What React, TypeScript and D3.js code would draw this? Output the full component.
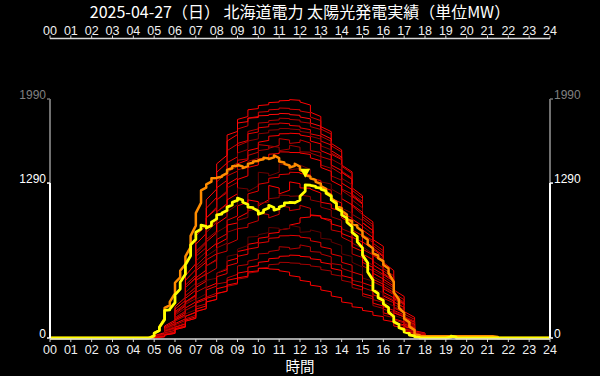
import React from "react";
import * as d3 from "d3";

const titleText = "2025-04-27（日） 北海道電力 太陽光発電実績（単位MW）";
const xAxisTitle = "時間";
const hourLabels = ["00","01","02","03","04","05","06","07","08","09","10","11","12","13","14","15","16","17","18","19","20","21","22","23","24"];
const yTickValues = [0, 1290, 1990];
const yTickLabels = ["0", "1290", "1990"];

// past days: 30-minute values from 05:00 to 18:00
const pastStartHour = 5;
const pastStepHours = 0.5;
const pastDays: number[][] = [
  [15, 90, 240, 480, 780, 1080, 1380, 1640, 1820, 1900, 1935, 1960, 1975, 1985, 1965, 1880, 1760, 1620, 1440, 1250, 1030, 820, 630, 400, 220, 60, 0],
  [10, 70, 200, 420, 700, 1000, 1300, 1560, 1740, 1830, 1880, 1900, 1915, 1905, 1890, 1840, 1740, 1600, 1430, 1230, 1010, 790, 580, 370, 200, 50, 0],
  [20, 100, 260, 520, 850, 1150, 1450, 1690, 1790, 1830, 1850, 1860, 1870, 1860, 1840, 1790, 1700, 1560, 1380, 1190, 960, 740, 530, 330, 170, 40, 0],
  [10, 60, 170, 350, 600, 880, 1150, 1400, 1600, 1720, 1790, 1810, 1830, 1820, 1800, 1760, 1680, 1540, 1390, 1200, 990, 770, 560, 350, 180, 50, 0],
  [15, 80, 220, 440, 720, 1000, 1250, 1460, 1620, 1700, 1750, 1780, 1790, 1770, 1750, 1700, 1640, 1530, 1380, 1180, 960, 750, 540, 340, 170, 40, 0],
  [10, 70, 190, 380, 640, 900, 1150, 1380, 1540, 1640, 1700, 1730, 1745, 1740, 1720, 1680, 1600, 1490, 1330, 1150, 930, 720, 510, 320, 160, 40, 0],
  [10, 60, 160, 330, 560, 800, 1050, 1280, 1450, 1560, 1630, 1680, 1700, 1705, 1690, 1640, 1560, 1440, 1290, 1110, 900, 690, 490, 300, 150, 35, 0],
  [15, 80, 210, 420, 680, 920, 1150, 1350, 1480, 1520, 1610, 1580, 1660, 1620, 1650, 1560, 1510, 1420, 1240, 1100, 860, 700, 470, 300, 140, 30, 0],
  [10, 60, 170, 350, 580, 820, 1050, 1250, 1400, 1470, 1560, 1600, 1560, 1605, 1550, 1540, 1440, 1350, 1230, 1030, 860, 640, 450, 280, 130, 30, 0],
  [10, 50, 150, 300, 500, 720, 950, 1150, 1320, 1420, 1490, 1530, 1550, 1545, 1540, 1500, 1420, 1310, 1160, 990, 800, 610, 430, 260, 120, 25, 0],
  [10, 50, 140, 290, 480, 680, 880, 1050, 1250, 1220, 1380, 1350, 1450, 1400, 1440, 1320, 1300, 1240, 1080, 950, 760, 560, 420, 260, 120, 25, 0],
  [10, 55, 150, 300, 480, 650, 820, 980, 1100, 1200, 1280, 1330, 1360, 1380, 1370, 1330, 1260, 1160, 1040, 900, 740, 580, 410, 250, 115, 25, 0],
  [5, 40, 120, 250, 420, 600, 780, 940, 1000, 1150, 1100, 1270, 1200, 1300, 1250, 1240, 1130, 1080, 1000, 840, 700, 540, 380, 230, 105, 20, 0],
  [10, 50, 140, 280, 440, 600, 750, 880, 980, 1060, 1120, 1160, 1190, 1180, 1190, 1150, 1090, 1010, 910, 790, 650, 510, 360, 220, 100, 20, 0],
  [5, 40, 110, 230, 380, 530, 700, 780, 910, 950, 1040, 1000, 1100, 1060, 1105, 1020, 1000, 900, 840, 700, 600, 470, 330, 210, 95, 20, 0],
  [5, 30, 90, 180, 300, 420, 540, 640, 720, 780, 830, 870, 900, 940, 1000, 1025, 1000, 950, 870, 760, 630, 490, 350, 210, 95, 20, 0],
  [5, 35, 100, 200, 320, 480, 540, 680, 740, 840, 860, 920, 900, 940, 880, 900, 830, 800, 700, 630, 500, 410, 300, 190, 85, 15, 0],
  [5, 30, 90, 180, 290, 400, 510, 600, 680, 740, 790, 830, 850, 855, 840, 810, 760, 700, 630, 550, 460, 360, 260, 160, 75, 15, 0],
  [5, 30, 80, 160, 260, 340, 450, 500, 600, 640, 700, 720, 760, 740, 775, 720, 700, 620, 580, 480, 420, 320, 240, 150, 70, 15, 0],
  [5, 25, 75, 150, 240, 330, 410, 480, 540, 590, 630, 660, 680, 690, 680, 660, 630, 580, 520, 450, 370, 290, 210, 130, 60, 10, 0],
  [5, 25, 70, 140, 220, 300, 370, 430, 490, 540, 580, 610, 630, 625, 615, 600, 570, 530, 480, 420, 350, 270, 190, 120, 55, 10, 0],
  [5, 25, 70, 140, 220, 300, 370, 440, 500, 550, 580, 575, 560, 520, 480, 440, 400, 350, 300, 260, 230, 190, 150, 100, 50, 10, 0],
];
const pastColors = [
  "#ff0000", "#d00000", "#ff0a0a", "#b00000", "#e80000", "#8c0000", "#ff0000", "#c40000",
  "#a00000", "#ff0000", "#700000", "#e00000", "#ff0000", "#900000", "#c80000", "#ff0000",
  "#600000", "#e60000", "#b40000", "#ff0000", "#a40000", "#ff0000",
];

// yesterday: 15-minute values from 04:30 to 21:30
const yesterdayStartHour = 4.5;
const yesterdayValues = [
  0, 0, 40, 90, 250, 300, 460, 560, 680, 850, 1040, 1230, 1280, 1330, 1335, 1350,
  1400, 1430, 1440, 1415, 1450, 1470, 1480, 1500, 1490, 1520, 1470, 1450, 1420, 1450,
  1400, 1355, 1330, 1300, 1265, 1215, 1160, 1100, 1060, 990, 950, 920, 850, 780, 705, 665,
  610, 540, 380, 250, 160, 95, 30, 15, 15, 15, 15, 15, 15, 15, 15, 15, 15, 15, 15, 15, 15, 15, 0,
];

// today: 15-minute values from 04:30 to 19:30
const todayStartHour = 4.5;
const todayValues = [
  0, 0, 40, 90, 230, 240, 360, 465, 610, 775, 880, 940, 915, 965, 1025, 1040,
  1090, 1130, 1165, 1130, 1090, 1080, 1030, 1065, 1105, 1065, 1090, 1125, 1130, 1125,
  1180, 1275, 1270, 1255, 1240, 1205, 1150, 1080, 1025, 965, 880, 800, 690, 550, 400, 335,
  285, 215, 135, 85, 50, 25, 10, 0, 0, 0, 0, 0, 0, 15, 0, 0, 0,
];
const quarterHour = 0.25;

const W = 600;
const H = 376;
const cjkFont = "'Noto Sans CJK JP', 'Noto Sans', sans-serif";
const numFont = "'Liberation Sans', 'Noto Sans', sans-serif";

// step curve whose treads lean toward the next value (stair-like traces)
function slopedStep(k: number) {
  return (context: any) => {
    let py = 0;
    let started = false;
    return {
      areaStart() {},
      areaEnd() {},
      lineStart() {
        started = false;
      },
      lineEnd() {},
      point(xv: number, yv: number) {
        if (!started) {
          context.moveTo(xv, yv);
          started = true;
        } else {
          context.lineTo(xv, py + (yv - py) * k);
          context.lineTo(xv, yv);
        }
        py = yv;
      },
    };
  };
}

export default function App() {
  React.useEffect(() => {
    document.body.style.margin = "0";
    document.body.style.background = "#000";
  }, []);

  const x = d3.scaleLinear().domain([0, 24]).range([50, 550]);
  const y = d3.scaleLinear().domain([0, 1990]).range([338, 99]);

  const pastLine = d3
    .line<[number, number]>()
    .x((d) => x(d[0]))
    .y((d) => y(d[1]))
    .curve(slopedStep(0.3) as any);

  const mainLine = d3
    .line<[number, number]>()
    .x((d) => x(d[0]))
    .y((d) => y(d[1]))
    .curve(slopedStep(0.45) as any);

  const pastPaths = pastDays.map((vals) => {
    const pts: [number, number][] = [[4.5, 0]];
    vals.forEach((v, i) => pts.push([pastStartHour + i * pastStepHours, v]));
    return pastLine(pts) || "";
  });

  const yPts: [number, number][] = [[0, 0]];
  yesterdayValues.forEach((v, i) => yPts.push([yesterdayStartHour + i * quarterHour, v]));
  yPts.push([24, 0]);

  const tPts: [number, number][] = [[0, 0]];
  todayValues.forEach((v, i) => tPts.push([todayStartHour + i * quarterHour, v]));
  tPts.push([24, 0]);

  const maxIdx = d3.maxIndex(todayValues);
  const mx = x(todayStartHour + maxIdx * quarterHour);
  const my = y(todayValues[maxIdx]) - 7;

  const hours = d3.range(0, 25);
  const axisColor = "#d8d8d8";

  return (
    <svg width={W} height={H} style={{ display: "block", position: "absolute", left: 0, top: 0, background: "#000" }} fontFamily={cjkFont}>
      <rect x={0} y={0} width={W} height={H} fill="#000" />
      <text x={W / 2} y={18} textAnchor="middle" fill="#fff" fontSize={16}>{titleText}</text>

      {/* top axis */}
      <line x1={x(0)} x2={x(24)} y1={38.5} y2={38.5} stroke={axisColor} strokeWidth={1.5} />
      {hours.map((h) => (
        <g key={"tt" + h}>
          <line x1={x(h)} x2={x(h)} y1={38.5} y2={35.5} stroke={axisColor} strokeWidth={1} />
          <text x={x(h)} y={34.5} textAnchor="middle" fill="#f0f0f0" fontSize={12.5} fontFamily={numFont}>{hourLabels[h]}</text>
        </g>
      ))}

      {/* data lines */}
      {pastPaths.map((d, i) => (
        <path key={"p" + i} d={d} fill="none" stroke={pastColors[i]} strokeWidth={1} strokeLinejoin="round" />
      ))}
      <path d={mainLine(yPts) || ""} fill="none" stroke="#ff8c00" strokeWidth={2.5} strokeLinejoin="round" />
      <path d={mainLine(tPts) || ""} fill="none" stroke="#ffff00" strokeWidth={2.8} strokeLinejoin="round" />
      <path d={`M${mx - 5},${my - 9}L${mx + 5},${my - 9}L${mx},${my}Z`} fill="#ffff00" />

      {/* bottom axis */}
      <line x1={x(0)} x2={x(24)} y1={339} y2={339} stroke={axisColor} strokeWidth={1.5} />
      {hours.map((h) => (
        <g key={"bt" + h}>
          <line x1={x(h)} x2={x(h)} y1={339} y2={342} stroke={axisColor} strokeWidth={1} />
          <text x={x(h)} y={353.5} textAnchor="middle" fill="#f0f0f0" fontSize={12.5} fontFamily={numFont}>{hourLabels[h]}</text>
        </g>
      ))}
      <text x={W / 2} y={372} textAnchor="middle" fill="#fff" fontSize={14.5}>{xAxisTitle}</text>

      {/* y axes */}
      {[x(0), x(24)].map((ax, k) => (
        <g key={"ya" + k}>
          <line x1={ax} x2={ax} y1={y(1990)} y2={y(1290)} stroke="#707070" strokeWidth={2} />
          <line x1={ax} x2={ax} y1={y(1290)} y2={y(0)} stroke="#ffffff" strokeWidth={2} />
          {yTickValues.map((v, i) => (
            <g key={"yt" + i}>
              <line x1={ax} x2={k === 0 ? ax - 3 : ax + 3} y1={y(v)} y2={y(v)} stroke={i === 2 ? "#707070" : "#fff"} strokeWidth={1.5} />
              <text
                x={k === 0 ? ax - 4 : ax + 4}
                y={y(v)}
                textAnchor={k === 0 ? "end" : "start"}
                fill={i === 2 ? "#808080" : "#ffffff"}
                fontSize={12}
                fontFamily={numFont}
              >
                {yTickLabels[i]}
              </text>
            </g>
          ))}
        </g>
      ))}
    </svg>
  );
}
